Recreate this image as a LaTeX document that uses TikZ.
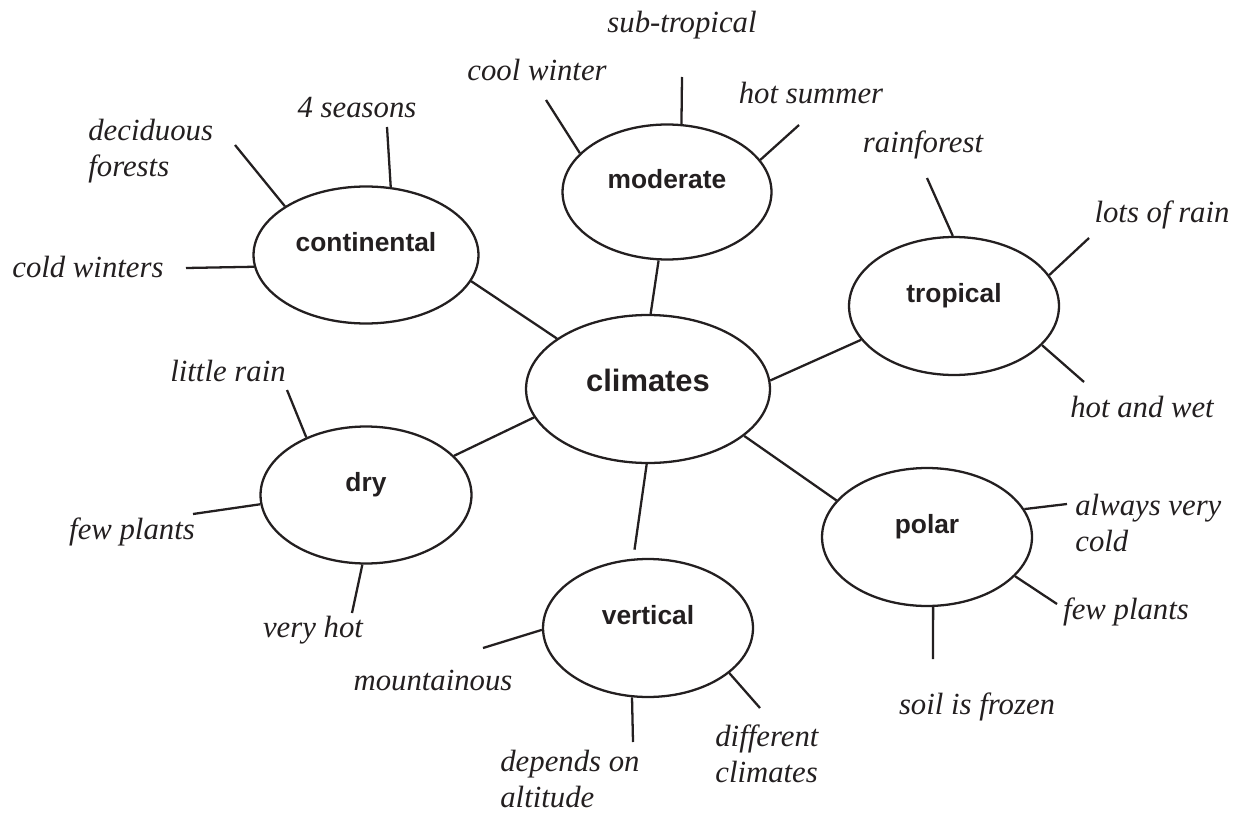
\documentclass[tikz,border=0pt]{standalone}
\usepackage{fontspec}
\setmainfont{Liberation Serif}
\setsansfont{Liberation Sans}
\usetikzlibrary{shapes.geometric}
\definecolor{ink}{RGB}{35,31,32}

\begin{document}
\begin{tikzpicture}[
    x=0.02cm, y=-0.02cm,
    topic/.style={ellipse, draw=ink, line width=1.3pt, minimum width=4.2cm, minimum height=2.76cm, inner sep=0pt, text=ink, font=\sffamily\bfseries\fontsize{15}{18}\selectfont, text height=10pt, text depth=13.6pt},
    hub/.style={topic, minimum width=4.88cm, minimum height=2.96cm, font=\sffamily\bfseries\fontsize{17.6}{21}\selectfont, text height=12pt, text depth=9pt},
    note/.style={text=ink, inner sep=0pt, font=\itshape\fontsize{17.5}{20.5}\selectfont},
    link/.style={draw=ink, line width=1.3pt}
]
    \useasboundingbox (0,0) rectangle (1243,814);

    % Centre
    \node [hub] (climates) at (648,389) {climates};

    % Climate types
    \node [topic, minimum width=4.18cm, minimum height=2.7cm] (moderate) at (667,192) {moderate};
    \node [topic, minimum width=4.5cm, minimum height=2.74cm] (continental) at (366,255) {continental};
    \node [topic] (tropical) at (954,306) {tropical};
    \node [topic, minimum width=4.22cm, minimum height=2.74cm] (dry) at (366,495) {dry};
    \node [topic] (polar) at (927,537) {polar};
    \node [topic] (vertical) at (648,628) {vertical};

    % Links to the centre
    \path [link] (climates.151) -- (continental.-14);
    \path [link] (climates.88) -- (moderate.263);
    \path [link] (climates.4) -- (tropical.200);
    \path [link] (climates.194) -- (dry.24);
    \path [link] (climates.-26) -- (polar.158);
    \path [link, shorten >=0.18cm] (climates.269) -- (vertical.102);

    % Continental
    \node [note] (cont_seasons) at (357,108) {4 seasons};
    \node [note, align=left, anchor=west] (cont_forests) at (88,151) {deciduous\\forests};
    \node [note, anchor=west] (cont_winters) at (12,267) {cold winters};
    \coordinate (cont_seasons_end) at (387,127);
    \coordinate (cont_forests_end) at (235,145);
    \coordinate (cont_winters_end) at (186,268);
    \path [link] (continental.70) -- (cont_seasons_end);
    \path [link] (continental.149) -- (cont_forests_end);
    \path [link] (continental.186) -- (cont_winters_end);

    % Moderate
    \node [note] (mod_cool) at (537,70) {cool winter};
    \node [note] (mod_sub) at (682,25) {sub-tropical};
    \node [note] (mod_hot) at (811,93) {hot summer};
    \coordinate (mod_cool_end) at (546,100);
    \coordinate (mod_sub_end) at (682,77);
    \coordinate (mod_hot_end) at (799,125);
    \path [link] (moderate.156) -- (mod_cool_end);
    \path [link] (moderate.78) -- (mod_sub_end);
    \path [link] (moderate.19) -- (mod_hot_end);

    % Tropical
    \node [note] (trop_forest) at (923,145) {rainforest};
    \node [note] (trop_rain) at (1162,215) {lots of rain};
    \node [note] (trop_wet) at (1142,407) {hot and wet};
    \coordinate (trop_forest_end) at (927,178);
    \coordinate (trop_rain_end) at (1089,238);
    \coordinate (trop_wet_end) at (1084,382);
    \path [link] (tropical.91) -- (trop_forest_end);
    \path [link] (tropical.18) -- (trop_rain_end);
    \path [link] (tropical.-24) -- (trop_wet_end);

    % Dry
    \node [note] (dry_rain) at (228,371) {little rain};
    \node [note] (dry_plants) at (132,532) {few plants};
    \node [note] (dry_hot) at (313,630) {very hot};
    \coordinate (dry_rain_end) at (287,390);
    \coordinate (dry_plants_end) at (193,514);
    \coordinate (dry_hot_end) at (352,613);
    \path [link] (dry.136) -- (dry_rain_end);
    \path [link] (dry.185) -- (dry_plants_end);
    \path [link] (dry.267) -- (dry_hot_end);

    % Polar
    \node [note, align=left, anchor=west] (polar_cold) at (1075,523) {always very\\cold};
    \node [note] (polar_plants) at (1126,612) {few plants};
    \node [note] (polar_soil) at (977,707) {soil is frozen};
    \coordinate (polar_cold_end) at (1067,504);
    \coordinate (polar_plants_end) at (1057,604);
    \coordinate (polar_soil_end) at (933,659);
    \path [link] (polar.16) -- (polar_cold_end);
    \path [link] (polar.-24) -- (polar_plants_end);
    \path [link] (polar.275) -- (polar_soil_end);

    % Vertical
    \node [note] (vert_mount) at (433,680) {mountainous};
    \node [note, align=left, anchor=west] (vert_alt) at (500,779) {depends on\\altitude};
    \node [note, align=left, anchor=west] (vert_diff) at (715,754) {different\\climates};
    \coordinate (vert_mount_end) at (483,648);
    \coordinate (vert_alt_end) at (633,742);
    \coordinate (vert_diff_end) at (760,708);
    \path [link] (vertical.181) -- (vert_mount_end);
    \path [link] (vertical.257) -- (vert_alt_end);
    \path [link] (vertical.-29) -- (vert_diff_end);

\end{tikzpicture}
\end{document}
